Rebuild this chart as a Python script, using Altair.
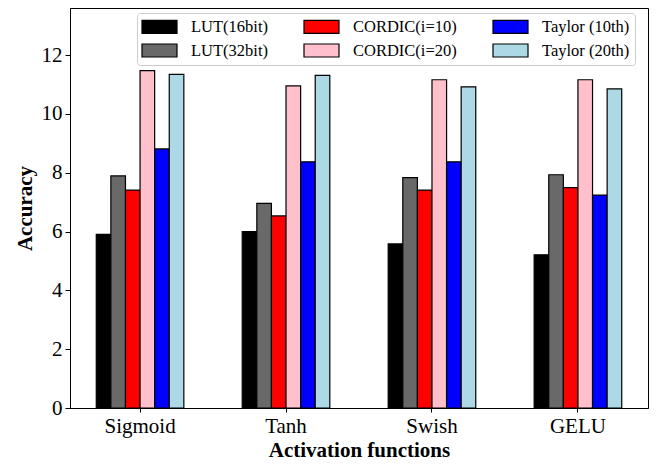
import altair as alt
import pandas as pd

categories = ["Sigmoid", "Tanh", "Swish", "GELU"]
series_names = ["LUT(16bit)", "LUT(32bit)", "CORDIC(i=10)", "CORDIC(i=20)", "Taylor (10th)", "Taylor (20th)"]
series_colors = ["#000000", "#696969", "#ff0000", "#ffc0cb", "#0000ff", "#add8e6"]

lut16 = [5.90, 6.00, 5.58, 5.21]
lut32 = [7.89, 6.96, 7.83, 7.93]
cordic10 = [7.41, 6.53, 7.41, 7.49]
cordic20 = [11.47, 10.95, 11.16, 11.16]
taylor10 = [8.81, 8.37, 8.37, 7.24]
taylor20 = [11.34, 11.31, 10.92, 10.85]

values = [lut16, lut32, cordic10, cordic20, taylor10, taylor20]
rows = []
for name, vals in zip(series_names, values):
    for cat, v in zip(categories, vals):
        rows.append({"func": cat, "series": name, "acc": v})
df = pd.DataFrame(rows)

FONT = "Liberation Serif"

chart = alt.Chart(df).mark_bar(stroke="black", strokeWidth=1.2).encode(
    x=alt.X("func:N", sort=categories, title="Activation functions",
            scale=alt.Scale(paddingInner=0.4, paddingOuter=0.18),
            axis=alt.Axis(labelAngle=0, labelFont=FONT, labelFontSize=21, labelColor="black",
                          titleFont=FONT, titleFontSize=21, titleFontWeight="bold", titleColor="black",
                          tickColor="black", tickSize=4, domainColor="black", labelPadding=3,
                          titlePadding=3)),
    xOffset=alt.XOffset("series:N", scale=alt.Scale(domain=series_names, paddingInner=0, paddingOuter=0)),
    y=alt.Y("acc:Q", title="Accuracy",
            scale=alt.Scale(domain=[0, 13.6], nice=False, zero=True),
            axis=alt.Axis(values=[0, 2, 4, 6, 8, 10, 12], grid=False, labelFont=FONT, labelFontSize=21,
                          labelColor="black", titleFont=FONT, titleFontSize=21, titleFontWeight="bold",
                          titleColor="black", tickColor="black", tickSize=5, domainColor="black",
                          labelPadding=3, titlePadding=6)),
    color=alt.Color("series:N", scale=alt.Scale(domain=series_names, range=series_colors),
                    legend=alt.Legend(title=None, orient="none", legendX=67, legendY=5, columns=3,
                                      symbolType="M-2.333,-0.867H2.333V0.867H-2.333Z", symbolSize=225,
                                      symbolStrokeColor="black", symbolStrokeWidth=1.2,
                                      symbolOffset=9, labelOffset=23, labelLimit=200,
                                      labelFont=FONT, labelFontSize=16.5, labelColor="black",
                                      columnPadding=33, rowPadding=5, padding=5,
                                      strokeColor="#cccccc", fillColor="white", cornerRadius=3)),
).properties(
    width=578, height=400,
    autosize=alt.AutoSizeParams(type="none"),
    padding={"left": 62, "top": 0, "right": 8, "bottom": 58},
).configure_view(stroke="black", strokeWidth=1)

chart.save("out.html", embed_options={"renderer": "svg", "actions": False})
